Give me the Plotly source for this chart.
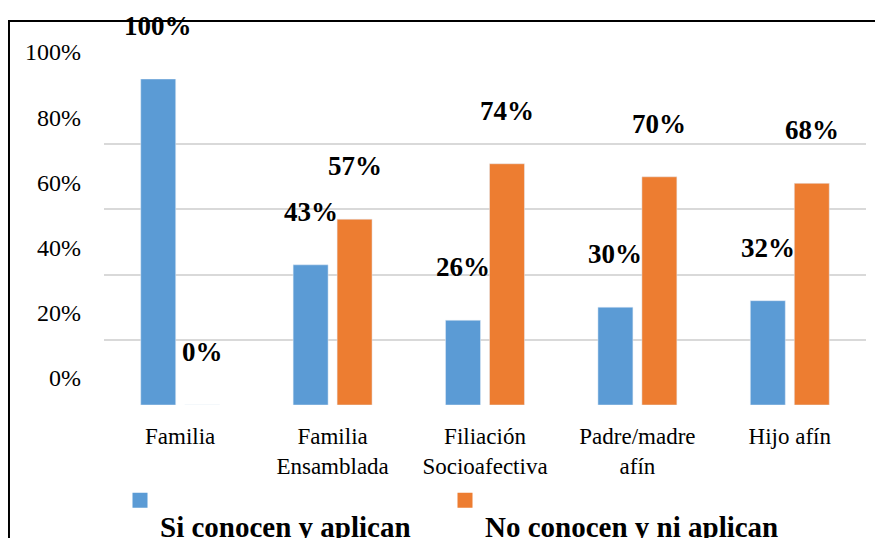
import plotly.graph_objects as go

categories = ["Familia", "Familia<br>Ensamblada", "Filiación<br>Socioafectiva", "Padre/madre<br>afín", "Hijo afín"]
si_values = [1.00, 0.43, 0.26, 0.30, 0.32]
no_values = [0.00, 0.57, 0.74, 0.70, 0.68]
series_names = ["Si conocen y aplican", "No conocen y ni aplican"]
series_colors = ["#5B9BD5", "#ED7D31"]
y_tick_vals = [0, 0.2, 0.4, 0.6, 0.8, 1.0]
y_tick_text = ["0%", "20%", "40%", "60%", "80%", "100%"]

FONT = "Liberation Serif"

fig = go.Figure()
all_values = [si_values, no_values]
for name, vals, col in zip(series_names, all_values, series_colors):
    fig.add_trace(go.Bar(x=categories, y=vals, name=name, marker_color=col,
                         showlegend=False, hoverinfo="x+y"))

# legend entries (square symbols), one legend each
legend_ids = ["legend", "legend2"]
for name, col, lid in zip(series_names, series_colors, legend_ids):
    fig.add_trace(go.Scatter(
        x=[categories[0]], y=[None], mode="markers",
        marker=dict(symbol="square", size=15, color=col),
        name="<br><span style='font-size:29px'><b>" + name + "</b></span>",
        showlegend=True, legend=lid))

# data labels
shifts = [-22, 22]
for vals, sh in zip(all_values, shifts):
    for cat, v in zip(categories, vals):
        fig.add_annotation(x=cat, y=v, xref="x", yref="y", text=f"<b>{round(v*100)}%</b>",
                           showarrow=False, xshift=sh, yshift=53, yanchor="middle",
                           font=dict(family=FONT, size=27, color="black"))

# outer frame
fig.add_shape(type="rect", xref="paper", yref="paper",
              x0=-0.1247, x1=1.3, y0=-0.8, y1=1.178,
              line=dict(color="black", width=2), layer="above")

leg_common = dict(orientation="h", xanchor="left", yanchor="top", valign="top",
                  itemwidth=30,
                  font=dict(family=FONT, size=22, color="black"),
                  bgcolor="rgba(0,0,0,0)")
fig.update_layout(
    width=883, height=538,
    margin=dict(l=96, r=25, t=71, b=141, autoexpand=False),
    paper_bgcolor="white", plot_bgcolor="white",
    barmode="group", bargap=0.423, bargroupgap=0.2045,
    font=dict(family=FONT, size=23, color="black"),
    showlegend=True,
    legend=dict(x=(120 - 104) / 762, y=-0.228, **leg_common),
    legend2=dict(x=(445 - 104) / 762, y=-0.228, **leg_common),
)
fig.update_xaxes(showgrid=False, showline=False, ticks="", tickfont=dict(size=23),
                 ticklabelstandoff=15)
fig.update_yaxes(range=[0, 1], tickvals=y_tick_vals, ticktext=y_tick_text,
                 showgrid=True, gridcolor="#D9D9D9", gridwidth=1.5,
                 zeroline=False, showline=False, ticks="",
                 tickfont=dict(size=24), ticklabelshift=-27, ticklabelstandoff=22)

fig.write_html("out.html")
